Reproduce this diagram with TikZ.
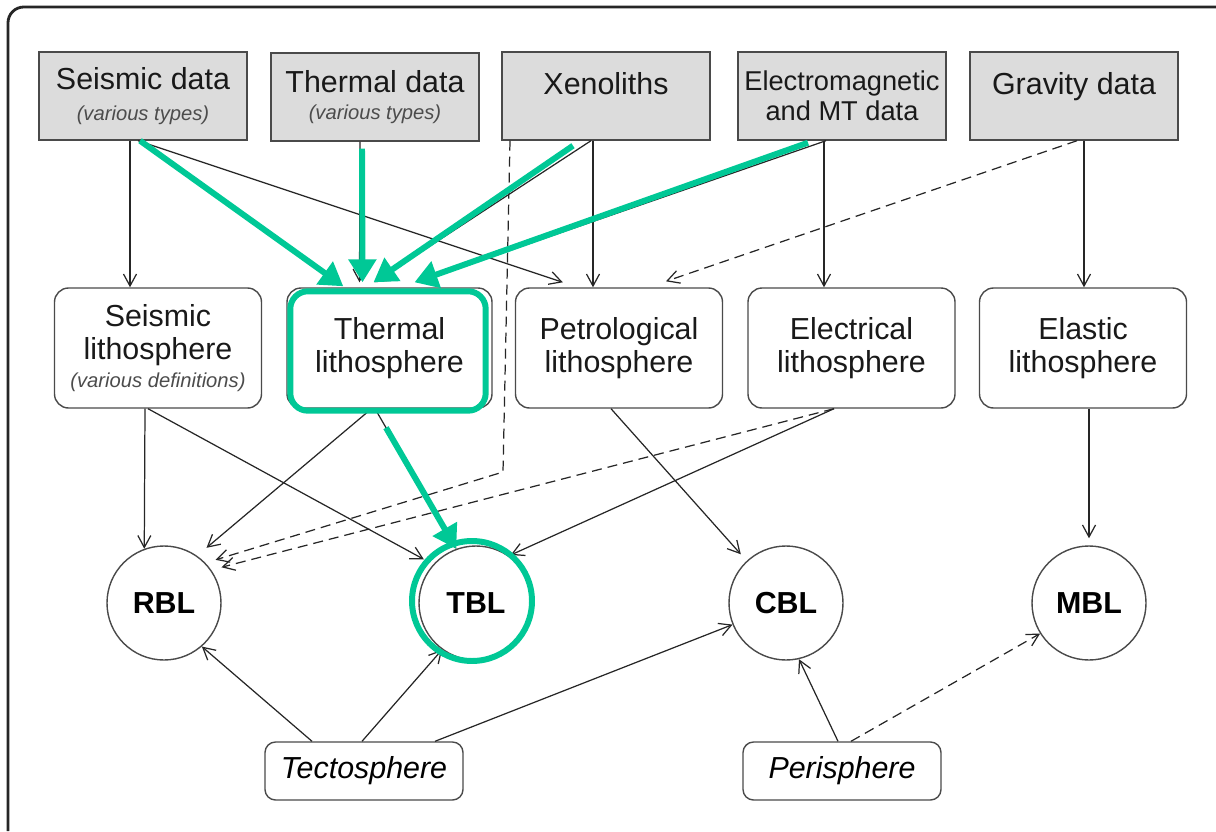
\documentclass[tikz,border=0pt]{standalone}
\usepackage{fontspec}
\setmainfont{Liberation Sans}
\usepackage{tikz}
\usetikzlibrary{arrows.meta}
\newcommand{\pxScale}{0.02cm}
\definecolor{dataGray}{HTML}{DCDCDC}
\definecolor{lineGray}{HTML}{4A4A4A}
\definecolor{hiGreen}{HTML}{00C896}
\newcommand{\note}[1]{{\itshape\color{black!70}\fontsize{11.5}{13}\selectfont #1}}
\tikzset{
  frame/.style={draw=black!85, line width=1.6pt, rounded corners=9pt},
  databox/.style={draw=lineGray, line width=0.8pt, fill=dataGray, text=black!90,
    minimum width=208*\pxScale, minimum height=88*\pxScale, inner sep=0pt,
    align=center, font=\fontsize{17.3}{19.5}\selectfont},
  lithbox/.style={draw=lineGray, line width=0.8pt, rounded corners=8pt, text=black!90,
    minimum width=207*\pxScale, minimum height=120*\pxScale, inner sep=0pt,
    align=center, font=\fontsize{17.3}{19}\selectfont},
  blcircle/.style={draw=lineGray, line width=0.8pt, circle, minimum size=114*\pxScale,
    inner sep=0pt, font=\bfseries\fontsize{17.3}{19}\selectfont},
  spherebox/.style={draw=lineGray, line width=0.8pt, rounded corners=6pt,
    minimum width=198*\pxScale, minimum height=58*\pxScale, inner sep=0pt,
    font=\itshape\fontsize{17.3}{19}\selectfont},
  link/.style={draw=black!85, line width=0.7pt, -{Straight Barb[length=2.4mm,width=2.6mm]}},
  dlink/.style={link, dash pattern=on 2mm off 1.2mm},
  hiline/.style={draw=hiGreen, line width=3.4pt},
  hilink/.style={hiline, -{Triangle[length=4.6mm,width=5.4mm]}},
}

\begin{document}
\begin{tikzpicture}[x=\pxScale, y=-\pxScale]
\useasboundingbox (0,0) rectangle (1216,831);
\draw[frame] (8,831) -- (8,7) -- (1216,7);

% data
\node[databox] (sdat) at (143,96) {Seismic data\\[-2pt]\note{(various types)}};
\node[databox] (tdat) at (375,97) {Thermal data\\[-4pt]\note{(various types)}};
\node[databox, text depth=0.52cm] (xen) at (606,96) {Xenoliths};
\node[databox, font=\fontsize{15.5}{17}\selectfont] (emd) at (842,96) {Electromagnetic\\and MT data};
\node[databox, text depth=0.52cm] (gdat) at (1074,96) {Gravity data};

% lithospheres
\node[lithbox] (slith) at (158,348) {Seismic\\lithosphere\\[-3pt]\note{(various definitions)}};
\node[lithbox, minimum width=205*\pxScale] (tlith) at (389.5,348) {Thermal\\lithosphere};
\node[lithbox] (plith) at (619,348) {Petrological\\lithosphere};
\node[lithbox] (elith) at (851.5,348) {Electrical\\lithosphere};
\node[lithbox] (alith) at (1083,348) {Elastic\\lithosphere};

% boundary layers
\node[blcircle] (rbl) at (164,603) {RBL};
\node[blcircle] (tbl) at (476,603) {TBL};
\node[blcircle] (cbl) at (786,603) {CBL};
\node[blcircle] (mbl) at (1089,603) {MBL};

\node[spherebox] (tecto) at (364,771) {Tectosphere};
\node[spherebox] (peri) at (842,771) {Perisphere};

% data -> lithospheres
\draw[link] ([shift={(-13,0)}]sdat.south) -- ([shift={(-28,0)}]slith.north);
\draw[link] ([shift={(-5,0)}]sdat.south) -- ([shift={(48,-5)}]plith.north west);
\draw[link] ([shift={(-15,0)}]tdat.south) -- ([shift={(-30,-5)}]tlith.north);
\draw[link] ([shift={(-15,0)}]xen.south) -- ([shift={(-15,-5)}]tlith.north);
\draw[link] ([shift={(-13,0)}]xen.south) -- ([shift={(-26,0)}]plith.north);
\draw[link] ([shift={(-16,0)}]emd.south) -- ([shift={(28,-5)}]tlith.north);
\draw[link] ([shift={(-18,0)}]emd.south) -- ([shift={(-27.5,0)}]elith.north);
\draw[dlink] ([shift={(3,0)}]gdat.south) -- ([shift={(47,-6)}]plith.north);
\draw[link] ([shift={(10,0)}]gdat.south) -- ([shift={(1,0)}]alith.north);

% lithospheres -> boundary layers
\coordinate (xbend) at (503,472);
\draw[dlink, shorten >=6pt] ([shift={(-96,0)}]xen.south) -- (xbend) -- (rbl.44);
\draw[link] ([shift={(-13,0)}]slith.south) -- (rbl.110);
\draw[link, shorten >=6pt] ([shift={(-10,0)}]slith.south) -- (tbl.138);
\draw[link, shorten >=7pt] ([shift={(-18,0)}]tlith.south) -- (rbl.55);
\draw[link] ([shift={(-14.5,0)}]tlith.south) -- (tbl.110);
\draw[link, shorten >=5pt] ([shift={(-8,0)}]plith.south) -- (cbl.133);
\draw[dlink, shorten >=6pt] ([shift={(-17.5,0)}]elith.south) -- (rbl.35);
\draw[link, shorten >=1pt] ([shift={(-17.5,0)}]elith.south) -- (tbl.55);
\draw[link, shorten >=4pt] ([shift={(6,0)}]alith.south) -- (mbl.north);

% spheres -> boundary layers
\draw[link] ([shift={(-52,0)}]tecto.north) -- (rbl.-49);
\draw[link] ([shift={(-2,0)}]tecto.north) -- (tbl.-126);
\draw[link] ([shift={(71,0)}]tecto.north) -- (cbl.-158);
\draw[link] ([shift={(-4,0)}]peri.north) -- (cbl.-77);
\draw[dlink] ([shift={(9,0)}]peri.north) -- (mbl.-148);

% highlight
\draw[hiline, rounded corners=10pt] ([shift={(4,4)}]tlith.north west) rectangle ([shift={(-7,2)}]tlith.south east);
\draw[hiline] ([shift={(-4,-2)}]tbl.center) circle[radius=1.2cm];
\draw[hilink] ([shift={(-3,0)}]sdat.south) -- ([shift={(57,-1)}]tlith.north west);
\draw[hilink] ([shift={(-13,7)}]tdat.south) -- ([shift={(-27,-5)}]tlith.north);
\draw[hilink] ([shift={(-33,5)}]xen.south) -- ([shift={(-16,-5)}]tlith.north);
\draw[hilink] ([shift={(-34,2)}]emd.south) -- ([shift={(25,-5)}]tlith.north);
\draw[hilink] ([shift={(-3.5,19)}]tlith.south) -- (tbl.110);
\end{tikzpicture}
\end{document}
